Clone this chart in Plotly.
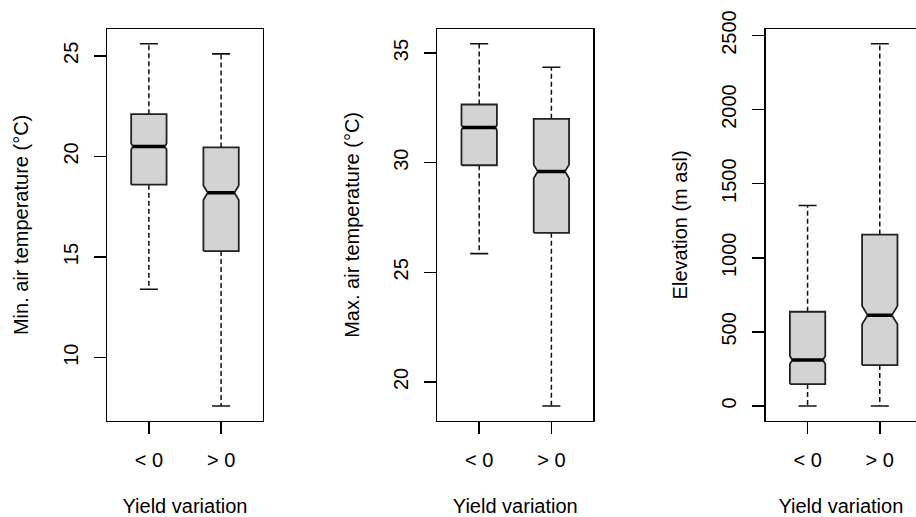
import plotly.graph_objects as go

# ---------------- data ----------------
groups = ["< 0", "> 0"]
x_title = "Yield variation"

panel_titles = ["Min. air temperature (°C)", "Max. air temperature (°C)", "Elevation (m asl)"]
panel_ticks = [[10, 15, 20, 25], [20, 25, 30, 35], [0, 500, 1000, 1500, 2000, 2500]]

# per panel: [group "< 0", group "> 0"]
tmin_lower = [13.4, 7.6]
tmin_q1 = [18.6, 15.3]
tmin_median = [20.5, 18.2]
tmin_q3 = [22.1, 20.45]
tmin_upper = [25.6, 25.1]
tmin_notch = [0.15, 0.36]

tmax_lower = [25.85, 18.9]
tmax_q1 = [29.88, 26.8]
tmax_median = [31.6, 29.6]
tmax_q3 = [32.65, 32.0]
tmax_upper = [35.42, 34.35]
tmax_notch = [0.11, 0.31]

elev_lower = [0, 0]
elev_q1 = [148, 276]
elev_median = [310, 613]
elev_q3 = [636, 1157]
elev_upper = [1353, 2444]
elev_notch = [27, 62]

panels = [
    (tmin_lower, tmin_q1, tmin_median, tmin_q3, tmin_upper, tmin_notch),
    (tmax_lower, tmax_q1, tmax_median, tmax_q3, tmax_upper, tmax_notch),
    (elev_lower, elev_q1, elev_median, elev_q3, elev_upper, elev_notch),
]

# ---------------- layout / style ----------------
W, H = 916, 517
FONT = "Liberation Sans, Arial, sans-serif"
FS = 20
plot_top, plot_bottom = 29.3, 420.5
plot_h = plot_bottom - plot_top
x_lefts = [107, 437.3, 765.7]
px_per_x = 72.2
half_w = 0.245      # half box width in x units
staple_w = 0.125    # half staple width
box_fill = "#D3D3D3"
edge = "#222222"

fig = go.Figure()
layout_axes = {}

for p, (lo, q1, md, q3, up, nt) in enumerate(panels):
    xa = "x" if p == 0 else f"x{p+1}"
    ya = "y" if p == 0 else f"y{p+1}"
    dmin, dmax = min(lo), max(up)
    ext = 0.04 * (dmax - dmin)
    yr = [dmin - ext, dmax + ext]
    px_per_y = plot_h / (yr[1] - yr[0])

    for g in range(2):
        xc = g + 1
        n_px = nt[g] * px_per_y
        ind = 0.6 * n_px / px_per_x
        xl, xr = xc - half_w, xc + half_w
        bx = [xl, xl, xl + ind, xl, xl, xr, xr, xr - ind, xr, xr, xl]
        by = [q1[g], md[g] - nt[g], md[g], md[g] + nt[g], q3[g], q3[g],
              md[g] + nt[g], md[g], md[g] - nt[g], q1[g], q1[g]]
        # whiskers (dashed)
        fig.add_trace(go.Scatter(
            x=[xc, xc, None, xc, xc], y=[q3[g], up[g], None, q1[g], lo[g]],
            mode="lines", line=dict(color="#111", width=1.5, dash="5px,3px"),
            xaxis=xa, yaxis=ya, showlegend=False, hoverinfo="skip"))
        # staples
        fig.add_trace(go.Scatter(
            x=[xc - staple_w, xc + staple_w, None, xc - staple_w, xc + staple_w],
            y=[up[g], up[g], None, lo[g], lo[g]],
            mode="lines", line=dict(color="#111", width=1.6),
            xaxis=xa, yaxis=ya, showlegend=False, hoverinfo="skip"))
        # notched box
        fig.add_trace(go.Scatter(
            x=bx, y=by, mode="lines", fill="toself", fillcolor=box_fill,
            line=dict(color=edge, width=1.8),
            xaxis=xa, yaxis=ya, showlegend=False, hoverinfo="skip"))
        # median
        fig.add_trace(go.Scatter(
            x=[xl + ind, xr - ind], y=[md[g], md[g]], mode="lines",
            line=dict(color="black", width=3.5),
            xaxis=xa, yaxis=ya, showlegend=False, hoverinfo="skip"))

    x0 = x_lefts[p]
    x1 = min(x0 + 2.16 * px_per_x, W)
    xr_hi = 0.42 + (x1 - x0) / px_per_x
    last = p == 2
    layout_axes["xaxis" if p == 0 else f"xaxis{p+1}"] = dict(
        domain=[x0 / W, x1 / W], range=[0.42, xr_hi], anchor=ya,
        automargin=False, fixedrange=True,
        tickvals=[1, 2], ticktext=groups, ticks="outside", ticklen=12,
        tickwidth=1.5, tickcolor="black", showline=True, mirror=True,
        linecolor="black", linewidth=1.5, showgrid=False, zeroline=False,
        tickfont=dict(family=FONT, size=FS, color="black"),
        ticklabelstandoff=9,
        title=dict(text=x_title, font=dict(family=FONT, size=FS, color="black"), standoff=33),
    )
    layout_axes["yaxis" if p == 0 else f"yaxis{p+1}"] = dict(
        domain=[1 - plot_bottom / H, 1 - plot_top / H], range=yr, anchor=xa,
        automargin=False, fixedrange=True,
        tickvals=panel_ticks[p], ticks="outside", ticklen=12, tickwidth=1.5,
        tickcolor="black", showline=True, mirror=not last, linecolor="black",
        linewidth=1.5, showgrid=False, zeroline=False, tickangle=-90,
        tickfont=dict(family=FONT, size=FS, color="black"),
        ticklabelstandoff=8,
        title=dict(text=panel_titles[p], font=dict(family=FONT, size=FS, color="black"), standoff=25),
    )

fig.update_layout(
    width=W, height=H, margin=dict(l=0, r=0, t=0, b=0, autoexpand=False),
    paper_bgcolor="white", plot_bgcolor="white", hovermode=False,
    **layout_axes,
)

fig.write_html(
    "out.html",
    config={"displayModeBar": False, "staticPlot": True},
    post_script="document.body.style.margin='0';document.body.style.overflow='hidden';",
)
